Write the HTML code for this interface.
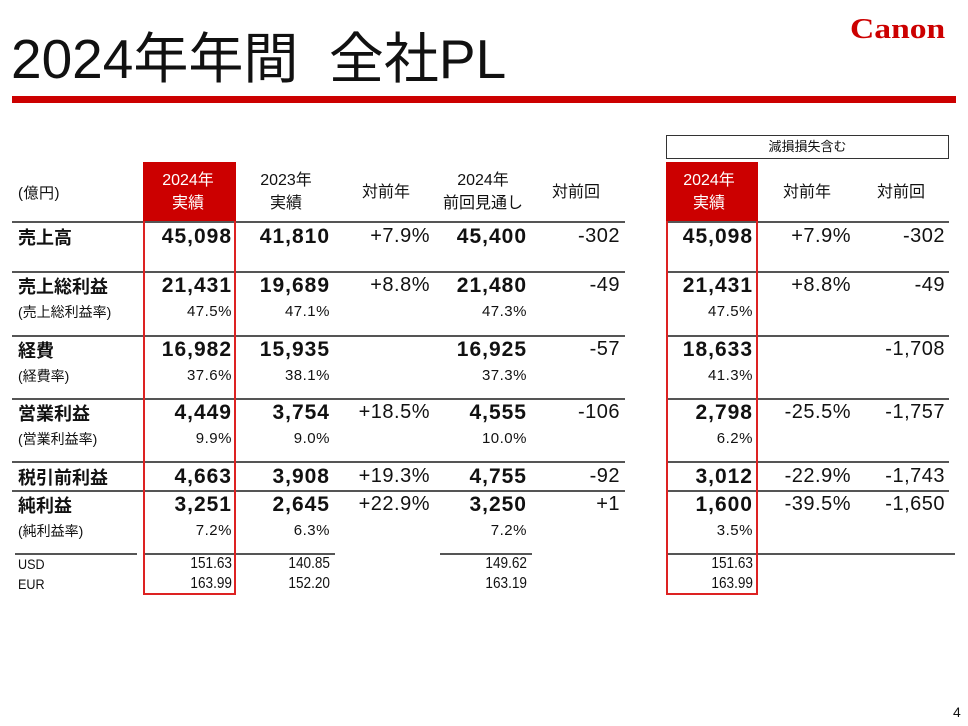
<!DOCTYPE html>
<html><head><meta charset="utf-8"><style>
body{margin:0;width:968px;height:726px;background:#fff;position:relative;overflow:hidden;font-family:"Liberation Sans","Noto Sans CJK JP",sans-serif;color:#111}
.a{position:absolute;white-space:nowrap}
.r{text-align:right}
.c{text-align:center}
.ln{position:absolute;height:2px;background:#555}
.b{font-weight:bold;font-size:21px;letter-spacing:1px}
.s{font-size:15px;letter-spacing:0.5px}
.x{font-size:16px}
</style></head><body>
<div class="a" style="left:11px;top:14px;font-size:55px;">2024年年間&nbsp;&nbsp;全社PL</div>
<div class="a" style="left:850px;top:14px;font-size:28px;font-weight:bold;color:#cc0000;font-family:'Liberation Serif',serif;transform:scaleX(1.2);transform-origin:left;">Canon</div>
<div class="a" style="left:12px;top:96px;width:944px;height:7px;background:#cc0000"></div>
<div class="a c" style="left:666px;top:135px;width:281px;height:22px;border:1px solid #333;font-size:13px;line-height:22px">減損損失含む</div>
<div class="a" style="left:143px;top:162px;width:93px;height:59px;background:#cc0000"></div>
<div class="a" style="left:666px;top:162px;width:92px;height:59px;background:#cc0000"></div>
<div id="t"></div>
<div class="a" style="left:143px;top:221px;width:89px;height:372px;border:2px solid #d22;border-top:none"></div>
<div class="a" style="left:666px;top:221px;width:88px;height:372px;border:2px solid #d22;border-top:none"></div>
<div class="a" style="left:953px;top:704px;font-size:14px">4</div>
<script>
const rights=[232,330,430,527,620,753,851,945];
const headers=["2024年<br>実績","2023年<br>実績","対前年","2024年<br>前回見通し","対前回","2024年<br>実績","対前年","対前回"];
const labels=["売上高","売上総利益","(売上総利益率)","経費","(経費率)","営業利益","(営業利益率)","税引前利益","純利益","(純利益率)","USD","EUR"];
const rowY=[236,285,311,349,375,412,438,476,504,530,565,585];
const kinds=["b","b","s","b","s","b","s","b","b","s","x","x"];
const values=[
["45,098","41,810","+7.9%","45,400","-302","45,098","+7.9%","-302"],
["21,431","19,689","+8.8%","21,480","-49","21,431","+8.8%","-49"],
["47.5%","47.1%","","47.3%","","47.5%","",""],
["16,982","15,935","","16,925","-57","18,633","","-1,708"],
["37.6%","38.1%","","37.3%","","41.3%","",""],
["4,449","3,754","+18.5%","4,555","-106","2,798","-25.5%","-1,757"],
["9.9%","9.0%","","10.0%","","6.2%","",""],
["4,663","3,908","+19.3%","4,755","-92","3,012","-22.9%","-1,743"],
["3,251","2,645","+22.9%","3,250","+1","1,600","-39.5%","-1,650"],
["7.2%","6.3%","","7.2%","","3.5%","",""],
["151.63","140.85","","149.62","","151.63","",""],
["163.99","152.20","","163.19","","163.99","",""]];
const lineY=[221,271,335,398,461,490];
const t=document.getElementById('t');
function add(html,cls,css,name){const d=document.createElement('div');d.className='a '+cls;d.style.cssText=css;d.innerHTML=html;


t.appendChild(d);}
add("(億円)","s","left:18px;top:182px;","unit-label");
headers.forEach((h,i)=>{const w=110;const red=(i==0||i==5);
add(h,"c","left:"+(rights[i]-w/2-44)+"px;width:"+w+"px;top:"+(h.includes('<br>')?169:181)+"px;font-size:16px;line-height:23px;color:"+(red?"#fff":"#111"),"header-"+i);});
lineY.forEach((y,i)=>{add("","ln","left:12px;top:"+y+"px;width:613px;","row-line-left-"+i);add("","ln","left:666px;top:"+y+"px;width:283px;","row-line-right-"+i);});
[[15,122],[143,192],[440,92],[666,289]].forEach((s,i)=>add("","ln","left:"+s[0]+"px;top:553px;width:"+s[1]+"px;","fx-line-"+i));
labels.forEach((l,r)=>{const k=kinds[r];const fs=k=="b"?18:14;
add(l,k,"left:18px;top:"+(rowY[r]-(k=="b"?12:9))+"px;font-size:"+fs+"px;letter-spacing:0;"+(k=="x"?"transform:scaleX(0.9);transform-origin:left;":""),"label-"+r);
values[r].forEach((v,c)=>{if(!v)return;const plain=k=="b"&&(c==2||c==4||c==6||c==7);
add(v,k+" r","left:"+(rights[c]-120)+"px;width:120px;top:"+(rowY[r]-(k=="b"?11:(k=="x"?10:8)))+"px;"+(k=="x"?"transform:scaleX(0.85);transform-origin:right;":"")+(plain?"font-weight:normal;font-size:20px;letter-spacing:0.5px;":""),"cell-"+r+"-"+c);});});
</script>
</body></html>
